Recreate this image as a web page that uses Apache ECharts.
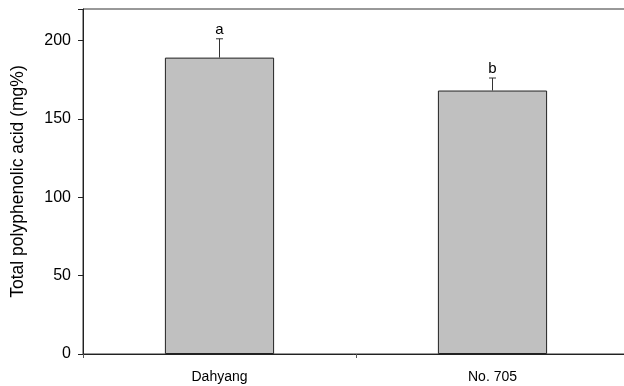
<!DOCTYPE html>
<html>
<head>
<meta charset="utf-8">
<script src="https://cdn.jsdelivr.net/npm/echarts@6/dist/echarts.min.js"></script>
<style>
  html, body { margin: 0; padding: 0; background: #fff; }
  #chart { width: 624px; height: 386px; }
</style>
</head>
<body>
<div id="chart"></div>
<script>
// 数据
var categories = ['Dahyang', 'No. 705'];
var means = [189, 168];
var errors = [12, 8];
var letters = ['a', 'b'];
var yTicks = [0, 50, 100, 150, 200];

var chart = echarts.init(document.getElementById('chart'), null, { renderer: 'canvas' });

var errData = categories.map(function (c, i) {
  return [i, means[i], means[i] + errors[i], letters[i]];
});

var option = {
  animation: false,
  textStyle: { fontFamily: 'Liberation Sans, Arial, sans-serif' },
  grid: {
    left: 83,
    top: 9,
    width: 546,
    bottom: 32,
    outerBoundsMode: 'none',
    containLabel: false,
    show: true,
    borderColor: '#333',
    borderWidth: 1
  },
  xAxis: {
    type: 'category',
    data: categories,
    axisLine: { lineStyle: { color: '#222', width: 1 } },
    axisTick: { show: true, length: 4, lineStyle: { color: '#555' } },
    axisLabel: { color: '#000', fontSize: 14, margin: 16 },
    splitLine: { show: false }
  },
  yAxis: {
    type: 'value',
    min: 0,
    max: 220,
    interval: 50,
    name: 'Total polyphenolic acid (mg%)',
    nameLocation: 'middle',
    nameGap: 56,
    nameTextStyle: { color: '#000', fontSize: 17.5 },
    axisLine: { show: true, lineStyle: { color: '#222', width: 1 } },
    axisTick: { show: true, length: 5, lineStyle: { color: '#222' } },
    axisLabel: {
      color: '#000',
      fontSize: 16,
      margin: 12,
      formatter: function (v) { return yTicks.indexOf(v) >= 0 ? String(v) : ''; }
    },
    splitLine: { show: false }
  },
  series: [
    {
      type: 'bar',
      data: means,
      barWidth: '40%',
      itemStyle: { color: '#c0c0c0', borderColor: '#222', borderWidth: 1 },
      z: 2
    },
    {
      type: 'custom',
      data: errData,
      z: 3,
      renderItem: function (params, api) {
        var base = api.coord([api.value(0), api.value(1)]);
        var top = api.coord([api.value(0), api.value(2)]);
        var cap = 3.5;
        return {
          type: 'group',
          children: [
            { type: 'line', shape: { x1: base[0], y1: base[1], x2: top[0], y2: top[1] },
              style: { stroke: '#333', lineWidth: 1 } },
            { type: 'line', shape: { x1: top[0] - cap, y1: top[1], x2: top[0] + cap, y2: top[1] },
              style: { stroke: '#333', lineWidth: 1 } },
            { type: 'text', x: top[0], y: top[1] - 1.5,
              style: { text: api.value(3), fill: '#000', fontSize: 15,
                fontFamily: 'Liberation Sans, Arial, sans-serif',
                align: 'center', verticalAlign: 'bottom' } }
          ]
        };
      }
    }
  ]
};

chart.setOption(option);
</script>
</body>
</html>
